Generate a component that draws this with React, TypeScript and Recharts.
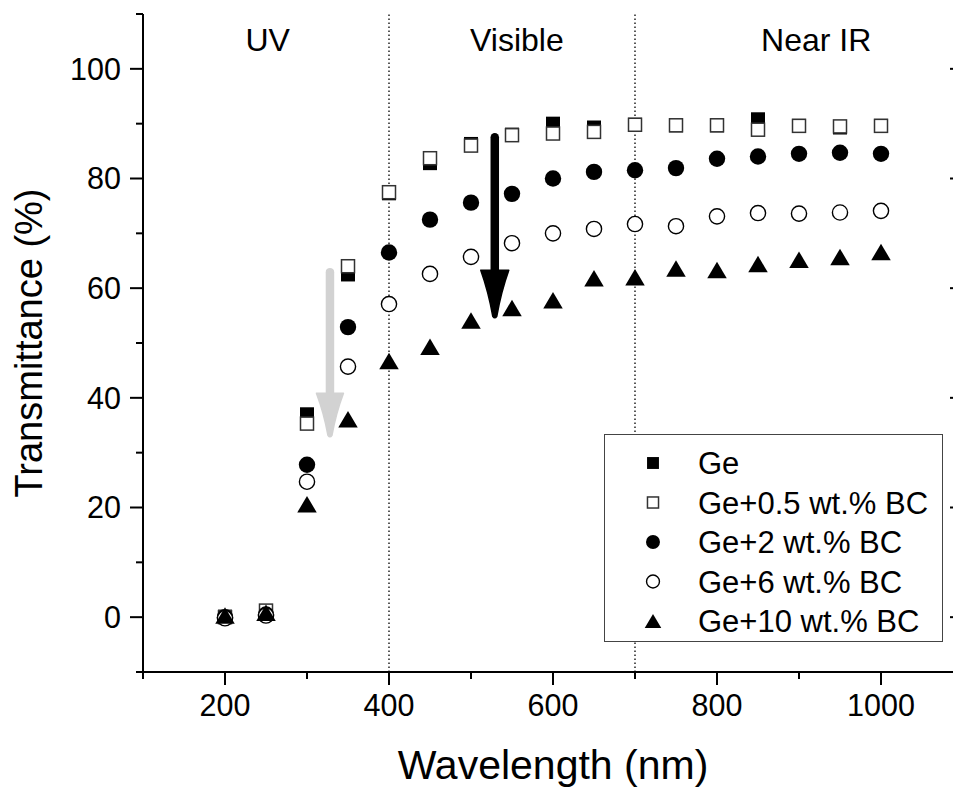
import React from "react";
import {
  ScatterChart,
  Scatter,
  XAxis,
  YAxis,
  ReferenceLine,
  ReferenceDot,
  Legend,
  Label,
} from "recharts";

// ---------- data ----------
const wavelengths = [200, 250, 300, 350, 400, 450, 500, 550, 600, 650, 700, 750, 800, 850, 900, 950, 1000];
const ge = [0.1, 1.0, 37.0, 62.5, 77.3, 82.8, 86.3, 88.0, 90.0, 89.3, 89.8, 89.7, 89.7, 90.8, 89.6, 89.3, 89.6];
const ge05 = [0, 1.2, 35.3, 64.0, 77.5, 83.7, 86.0, 87.9, 88.2, 88.5, 89.8, 89.7, 89.7, 88.9, 89.6, 89.5, 89.6];
const ge2 = [0, 0.5, 27.8, 52.9, 66.5, 72.5, 75.6, 77.2, 80.0, 81.2, 81.5, 81.9, 83.6, 84.0, 84.5, 84.7, 84.5];
const ge6 = [-0.2, 0.3, 24.7, 45.7, 57.1, 62.6, 65.7, 68.2, 70.0, 70.8, 71.7, 71.3, 73.1, 73.7, 73.6, 73.8, 74.1];
const ge10 = [0.3, 0.8, 20.6, 36.1, 46.7, 49.3, 54.1, 56.4, 57.8, 61.8, 62.0, 63.6, 63.3, 64.4, 65.2, 65.7, 66.6];

const seriesNames = ["Ge", "Ge+0.5 wt.% BC", "Ge+2 wt.% BC", "Ge+6 wt.% BC", "Ge+10 wt.% BC"];
const seriesValues = [ge, ge05, ge2, ge6, ge10];
const seriesMarkers = ["filledSquare", "openSquare", "filledCircle", "openCircle", "triangle"];

const xTicks = [100, 200, 300, 400, 500, 600, 700, 800, 900, 1000, 1100];
const xLabelTicks = [200, 400, 600, 800, 1000];
const yTicks = [-10, 0, 10, 20, 30, 40, 50, 60, 70, 80, 90, 100, 110];
const yLabelTicks = [0, 20, 40, 60, 80, 100];

const regionBoundaries = [400, 700];
const regionLabels = [
  { x: 252, y: 103.2, text: "UV" },
  { x: 556, y: 103.2, text: "Visible" },
  { x: 921, y: 103.2, text: "Near IR" },
];
const arrows = [
  { x: 328, yFrom: 63.7, yTo: 32.8, color: "#d2d2d2" },
  { x: 529, yFrom: 88.3, yTo: 54.5, color: "#000000" },
];

const FONT = "'Liberation Sans', Arial, Helvetica, sans-serif";

// ---------- markers ----------
function marker(kind: string, cx: number, cy: number, small = false) {
  const k = small ? 0.85 : 1;
  switch (kind) {
    case "filledSquare": {
      const s = 14 * k;
      return <rect x={cx - s / 2} y={cy - s / 2} width={s} height={s} fill="#000" />;
    }
    case "openSquare": {
      const s = 13 * k;
      return <rect x={cx - s / 2} y={cy - s / 2} width={s} height={s} fill="#fff" stroke="#333" strokeWidth={1.5} />;
    }
    case "filledCircle":
      return <circle cx={cx} cy={cy} r={8.2 * k} fill="#000" />;
    case "openCircle":
      return <circle cx={cx} cy={cy} r={7.6 * k} fill="#fff" stroke="#000" strokeWidth={1.4} />;
    default: {
      const w = 19.5 * k;
      const h = 16.5 * k;
      return (
        <polygon
          points={`${cx},${cy - h / 2} ${cx + w / 2},${cy + h / 2} ${cx - w / 2},${cy + h / 2}`}
          fill="#000"
        />
      );
    }
  }
}

const makeShape = (kind: string) => (p: any) => {
  if (p.cx == null || p.cy == null) return <g />;
  return marker(kind, p.cx, p.cy);
};

// ---------- ticks ----------
const BottomTick = (p: any) => {
  const { x, y, payload } = p;
  const v = payload.value;
  const major = v % 200 === 0;
  const len = major ? 13 : 7;
  return (
    <g>
      <line x1={x} y1={y} x2={x} y2={y + len} stroke="#000" strokeWidth={2} />
      {xLabelTicks.includes(v) && (
        <text x={x} y={y + 44} textAnchor="middle" fontSize={30.5} fontFamily={FONT} fill="#000">
          {v}
        </text>
      )}
    </g>
  );
};

const TopTick = (p: any) => {
  const { x, y, payload } = p;
  const v = payload.value;
  const len = v % 200 === 0 ? 13 : 7;
  return <line x1={x} y1={y} x2={x} y2={y + len} stroke="#000" strokeWidth={2} />;
};

const LeftTick = (p: any) => {
  const { x, y, payload } = p;
  const v = payload.value;
  const major = v % 20 === 0;
  const len = major ? 13 : 7;
  return (
    <g>
      <line x1={x - len} y1={y} x2={x} y2={y} stroke="#000" strokeWidth={2} />
      {yLabelTicks.includes(v) && (
        <text x={x - 22} y={y + 10.8} textAnchor="end" fontSize={30.5} fontFamily={FONT} fill="#000">
          {v}
        </text>
      )}
    </g>
  );
};

const RightTick = (p: any) => {
  const { x, y, payload } = p;
  const v = payload.value;
  const len = v % 20 === 0 ? 13 : 7;
  return <line x1={x - len} y1={y} x2={x} y2={y} stroke="#000" strokeWidth={2} />;
};

// ---------- annotations ----------
const ArrowShape = (color: string, headLen: number, headW: number, shaftW: number) => (p: any) => {
  const { x1, y1, x2, y2 } = p;
  if (x1 == null) return <g />;
  const x = x1;
  const top = Math.min(y1, y2);
  const tip = Math.max(y1, y2);
  const yh = tip - headLen;
  const hw = headW / 2;
  const d = `M ${x - hw} ${yh} L ${x + hw} ${yh} Q ${x + hw * 0.45} ${yh + headLen * 0.45} ${x + 2} ${tip - 2} Q ${x} ${tip + 1} ${x - 2} ${tip - 2} Q ${x - hw * 0.45} ${yh + headLen * 0.45} ${x - hw} ${yh} Z`;
  return (
    <g>
      <line x1={x} y1={top + shaftW / 2} x2={x} y2={yh + 4} stroke={color} strokeWidth={shaftW} strokeLinecap="round" />
      <path d={d} fill={color} stroke={color} strokeWidth={1.5} strokeLinejoin="round" />
    </g>
  );
};

const regionText = (text: string) => (p: any) => (
  <text x={p.cx} y={p.cy} textAnchor="middle" fontSize={32} fontFamily={FONT} fill="#000">
    {text}
  </text>
);

const LegendBox = () => (
  <svg width={340} height={209} style={{ display: "block" }}>
    <rect x={0.5} y={0.5} width={338} height={207} fill="#fff" stroke="#444" strokeWidth={1} />
    {seriesNames.map((name, i) => {
      const cy = 29 + i * 39.5;
      return (
        <g key={name}>
          {marker(seriesMarkers[i], 49, cy, true)}
          <text x={94} y={cy + 11} fontSize={31} fontFamily={FONT} fill="#000">
            {name}
          </text>
        </g>
      );
    })}
  </svg>
);

export default function App() {
  const datasets = seriesValues.map((vals) => wavelengths.map((w, i) => ({ x: w, y: vals[i] })));
  return (
    <div style={{ position: "absolute", left: 0, top: 0, width: 953, height: 787, overflow: "hidden", background: "#fff" }}>
      <ScatterChart width={980} height={787} margin={{ top: 14, right: 0, bottom: 0, left: 0 }}>
        <XAxis
          xAxisId="b"
          dataKey="x"
          type="number"
          orientation="bottom"
          domain={[100, 1100]}
          ticks={xTicks}
          interval={0}
          allowDataOverflow
          height={115}
          tickLine={false}
          tickSize={0}
          tickMargin={0}
          axisLine={{ stroke: "#000", strokeWidth: 2 }}
          tick={<BottomTick />}
        >
          <Label
            content={(p: any) => {
              const vb = p.viewBox || {};
              return (
                <text x={vb.x + vb.width / 2} y={vb.y + 107} textAnchor="middle" fontSize={41} fontFamily={FONT} fill="#000">
                  Wavelength (nm)
                </text>
              );
            }}
          />
        </XAxis>
        <XAxis
          xAxisId="t"
          type="number"
          orientation="top"
          domain={[100, 1100]}
          ticks={xTicks}
          interval={0}
          allowDataOverflow
          height={0}
          tickLine={false}
          tickSize={0}
          tickMargin={0}
          axisLine={{ stroke: "#000", strokeWidth: 2 }}
          tick={<TopTick />}
        />
        <YAxis
          yAxisId="l"
          dataKey="y"
          type="number"
          orientation="left"
          domain={[-10, 110]}
          ticks={yTicks}
          interval={0}
          allowDataOverflow
          width={143}
          tickLine={false}
          tickSize={0}
          tickMargin={0}
          axisLine={{ stroke: "#000", strokeWidth: 2 }}
          tick={<LeftTick />}
        >
          <Label
            content={(p: any) => {
              const vb = p.viewBox || {};
              const cx = 42;
              const cy = vb.y + vb.height / 2;
              return (
                <text x={cx} y={cy} transform={`rotate(-90 ${cx} ${cy})`} textAnchor="middle" fontSize={38} fontFamily={FONT} fill="#000">
                  Transmittance (%)
                </text>
              );
            }}
          />
        </YAxis>
        <YAxis
          yAxisId="r"
          type="number"
          orientation="right"
          domain={[-10, 110]}
          ticks={yTicks}
          interval={0}
          allowDataOverflow
          width={17}
          tickLine={false}
          tickSize={0}
          tickMargin={0}
          axisLine={{ stroke: "#000", strokeWidth: 2 }}
          tick={<RightTick />}
        />

        {regionBoundaries.map((b) => (
          <ReferenceLine
            key={b}
            x={b}
            xAxisId="b"
            yAxisId="l"
            stroke="#000"
            strokeWidth={1.3}
            strokeDasharray="1.5 2.5"
          />
        ))}

        {seriesValues.map((_, i) => (
          <Scatter
            key={seriesNames[i]}
            name={seriesNames[i]}
            data={datasets[i]}
            xAxisId="b"
            yAxisId="l"
            isAnimationActive={false}
            shape={makeShape(seriesMarkers[i])}
          />
        ))}

        {arrows.map((a, i) => (
          <ReferenceLine
            key={"arrow" + i}
            xAxisId="b"
            yAxisId="l"
            segment={[
              { x: a.x, y: a.yFrom },
              { x: a.x, y: a.yTo },
            ]}
            shape={ArrowShape(a.color, i === 0 ? 44 : 48, i === 0 ? 27 : 28, 8.5)}
          />
        ))}

        {regionLabels.map((r) => (
          <ReferenceDot key={r.text} x={r.x} y={r.y} xAxisId="b" yAxisId="l" r={0} shape={regionText(r.text)} />
        ))}

        <Legend
          layout="horizontal"
          verticalAlign="middle"
          align="center"
          content={() => <LegendBox />}
          wrapperStyle={{ position: "absolute", left: 604, top: 434, width: 340, height: 209 }}
        />
      </ScatterChart>
    </div>
  );
}
